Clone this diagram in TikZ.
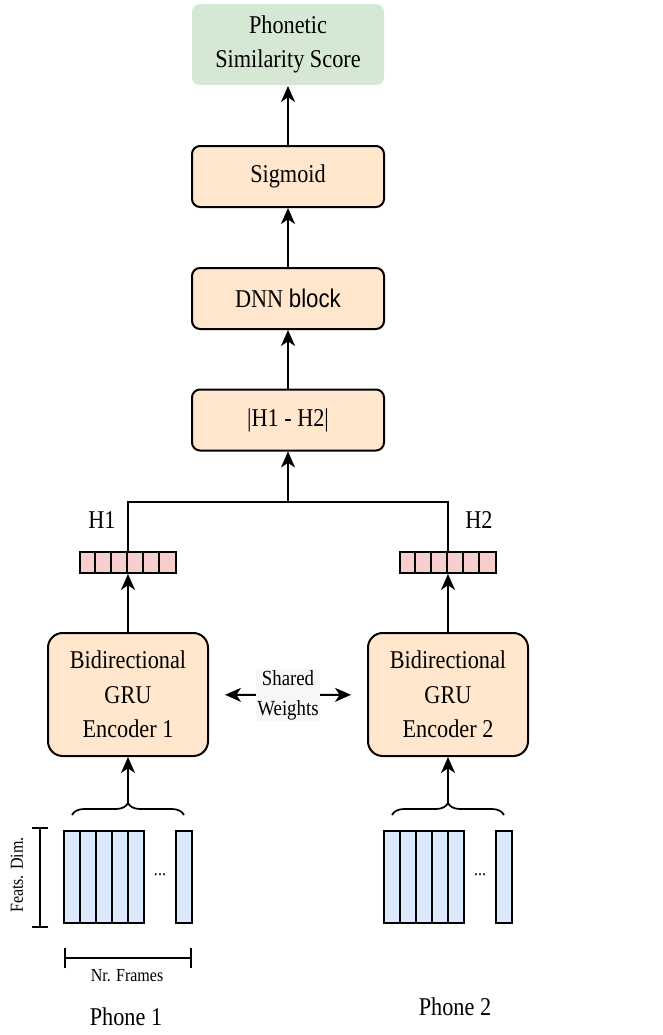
\documentclass[tikz,border=0pt]{standalone}
\usepackage{fontspec}
\setmainfont{Liberation Serif}[FakeStretch=0.87]
\setsansfont{Liberation Sans}[FakeStretch=0.87]
\usetikzlibrary{positioning, arrows.meta, decorations.pathreplacing}
\definecolor{blockfill}{HTML}{FFE6CC}
\definecolor{scorefill}{HTML}{D5E8D4}
\definecolor{hidfill}{HTML}{F8CECC}
\definecolor{framefill}{HTML}{DAE8FC}
\definecolor{sharedfill}{HTML}{F5F7F9}
\tikzset{
    on grid,
    node distance=91.5pt,
    arrow/.style={-{Stealth[length=12pt,width=10.5pt,inset=3.5pt]}, line width=1.4pt},
    block/.style={draw, line width=1.5pt, fill=blockfill, rounded corners=6pt,
        minimum width=144pt, minimum height=45.75pt, inner sep=0pt,
        align=center, font=\fontsize{19.2}{26}\selectfont},
    score/.style={block, draw=none, fill=scorefill, minimum height=60.75pt},
    encoder/.style={block, rounded corners=11pt, minimum width=120pt, minimum height=92.25pt},
    hidvec/.style={draw, line width=1.4pt, fill=hidfill, minimum width=72pt,
        minimum height=15.75pt, inner sep=0pt},
    frame/.style={draw, line width=1.4pt, fill=framefill, minimum width=12pt,
        minimum height=69pt, inner sep=0pt},
    lbl/.style={inner sep=0pt, font=\fontsize{19.2}{26}\selectfont},
    small/.style={inner sep=0pt, font=\fontsize{13.8}{16}\selectfont},
    shared/.style={fill=sharedfill, inner sep=1pt, align=center,
        font=\fontsize{16.2}{22.5}\selectfont},
    brace/.style={decorate, decoration={brace, amplitude=9pt}, line width=1.3pt},
    dimline/.style={{Bar[width=12pt]}-{Bar[width=12pt]}, line width=1.4pt},
}

\begin{document}
\begin{tikzpicture}[x=0.75pt, y=-0.75pt]
    \useasboundingbox (0,0) rectangle (663,1035);

    % main column
    \node[block] (diff) at (288,420) {|H1 - H2|};
    \node[block, above=91.125pt of diff] (dnn) {DNN \textsf{block}};
    \node[block, above=of dnn] (sig) {Sigmoid};
    \node[score, above=99pt of sig] (score) {Phonetic\\Similarity Score};

    % encoders and hidden vectors
    \node[encoder] (enc1) at (128,694.5) {Bidirectional\\GRU\\Encoder 1};
    \node[encoder] (enc2) at (448,694.5) {Bidirectional\\GRU\\Encoder 2};
    \node[hidvec, above=99pt of enc1] (h1) {};
    \node[hidvec, above=99pt of enc2] (h2) {};
    \foreach \k in {1,...,5} {
        \draw[line width=1.4pt] ([xshift=\k*12pt] h1.south west) -- ([xshift=\k*12pt] h1.north west);
        \draw[line width=1.4pt] ([xshift=\k*12pt] h2.south west) -- ([xshift=\k*12pt] h2.north west);
    }
    \node[lbl] (h1name) at (102,520) {H1};
    \node[lbl] (h2name) at (479,520) {H2};

    \node[shared] (shw) at (288,695) {Shared\\Weights};

    % input frames
    \foreach \i in {0,...,4} {
        \node[frame] (pa\i) at (72+16*\i,877) {};
        \node[frame] (pb\i) at (392+16*\i,877) {};
    }
    \node[frame] (pa5) at (184,877) {};
    \node[frame] (pb5) at (504,877) {};
    \node[small] (dotsa) at (160,875) {...};
    \node[small] (dotsb) at (480,875) {...};

    \coordinate (bral) at (72,815);
    \coordinate (brar) at (184,815);
    \coordinate (brbl) at (392,815);
    \coordinate (brbr) at (504,815);
    \coordinate (tipa) at (128,803);
    \coordinate (tipb) at (448,803);
    \draw[brace] (bral) -- (brar);
    \draw[brace] (brbl) -- (brbr);

    % dimensions
    \coordinate (fdtop) at (40,827);
    \coordinate (fdbot) at (40,928);
    \coordinate (nfl) at (64,958);
    \coordinate (nfr) at (192,958);
    \draw[dimline] (fdtop) -- (fdbot);
    \draw[{Bar[width=15pt]}-{Bar[width=15pt]}, line width=1.4pt] (nfl) -- (nfr);
    \node[small, rotate=90] (fdname) at (17,875) {Feats. Dim.};
    \node[small] (nfname) at (127,976) {Nr. Frames};

    \node[lbl] (ph1) at (126,1017) {Phone 1};
    \node[lbl] (ph2) at (455,1007) {Phone 2};

    % connectors
    \coordinate (join) at (288,502);
    \draw[line width=1.4pt] (h1.north) |- (join) -| (h2.north);
    \path[arrow]
        (join) edge (diff.south)
        (diff) edge (dnn)
        (dnn) edge (sig)
        (sig) edge (score)
        (enc1) edge (h1)
        (enc2) edge (h2)
        (tipa) edge (enc1.south)
        (tipb) edge (enc2.south)
        (shw) edge[shorten >=12pt] (enc1)
        (shw) edge[shorten >=12pt] (enc2);
\end{tikzpicture}
\end{document}
